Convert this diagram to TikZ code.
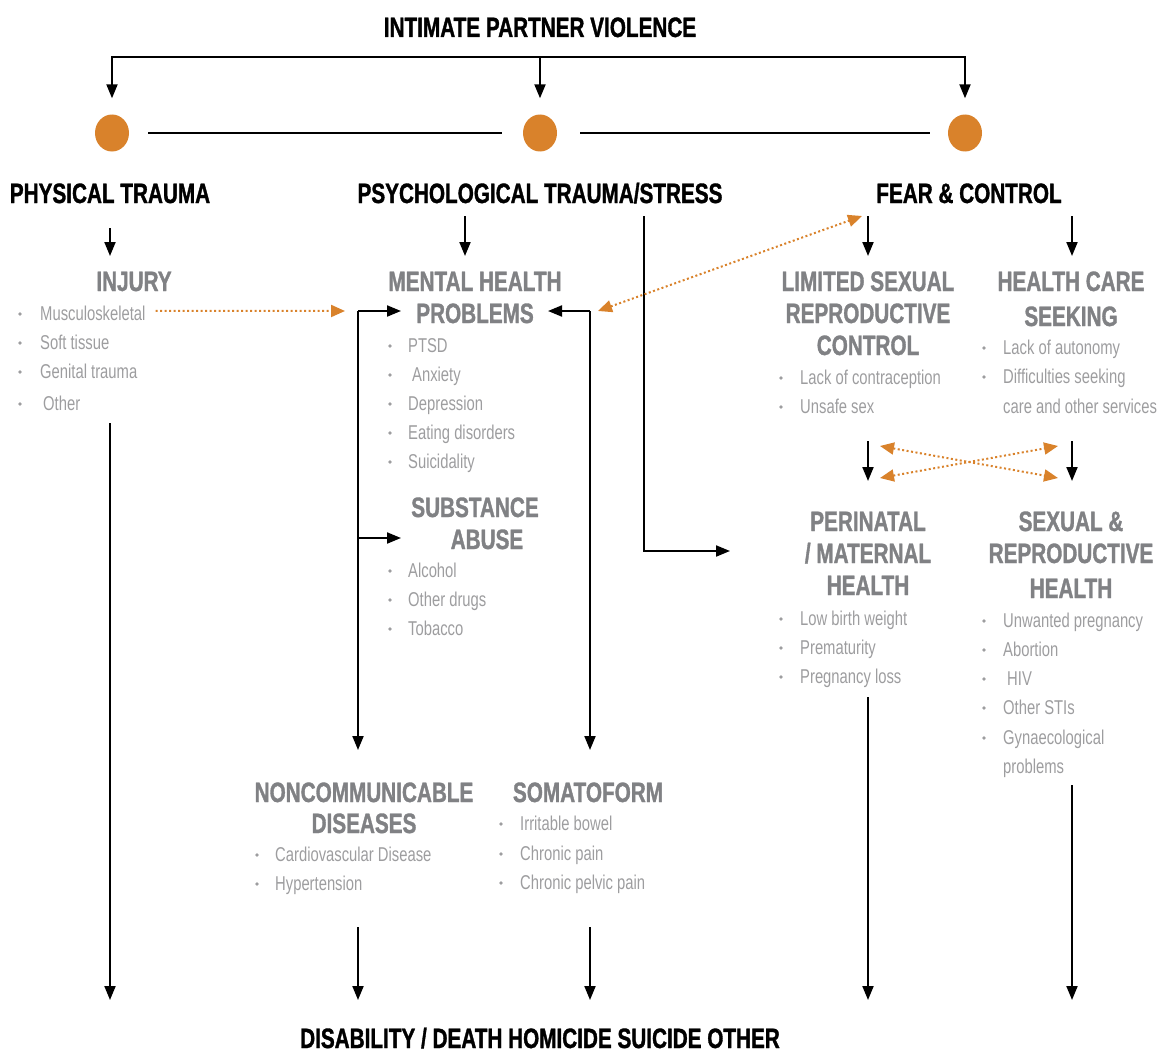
\documentclass[tikz,border=0pt]{standalone}
\usepackage{fontspec}
\setmainfont{Liberation Sans}[FakeStretch=0.74, BoldFeatures={FakeBold=1.2}]
\usetikzlibrary{arrows.meta,shapes.geometric}
\definecolor{ora}{HTML}{D9822B}
\definecolor{hgray}{HTML}{808184}
\definecolor{bgray}{HTML}{9D9D9F}
\newcommand\bitem[5]{%
  \fill[bgray] (#2,#4+1) circle (1.8);
  \node[btx] (#1) at (#3,#4+7) {#5};}
\begin{document}
\begin{tikzpicture}[x=1pt,y=-1pt,
  blk/.style={font=\bfseries\fontsize{28}{30}\selectfont, text=black, inner sep=0pt, anchor=base},
  ghd/.style={font=\bfseries\fontsize{28}{30}\selectfont, text=hgray, inner sep=0pt, anchor=base},
  btx/.style={font=\fontsize{20}{22}\selectfont, text=bgray, inner sep=0pt, anchor=base west},
  arr/.style={line width=2pt, -{Triangle[length=14pt,width=11pt]}},
  ln/.style={line width=2pt},
  odot/.style={ora, line width=2pt, dash pattern=on 2pt off 2.5pt},
  oboth/.style={odot, {Triangle[length=14pt,width=12pt]}-{Triangle[length=14pt,width=12pt]}},
  oone/.style={odot, -{Triangle[length=14pt,width=12pt]}},
  bigdot/.style={ellipse, fill=ora, minimum width=34pt, minimum height=37pt, inner sep=0pt},
]
\useasboundingbox (0,0) rectangle (1158,1054);

% top
\node[blk] (ipv) at (540,37) {INTIMATE PARTNER VIOLENCE};
\node[bigdot] (c1) at (112,133) {};
\node[bigdot] (c2) at (540,133) {};
\node[bigdot] (c3) at (965,133) {};
\coordinate (tm) at (540,57);
\draw[arr, shorten >=16pt] (tm) -| (c1.north);
\draw[arr, shorten >=16pt] (tm) -| (c3.north);
\draw[arr, shorten >=16pt] (tm) -- (c2.north);
\draw[ln, shorten <=19pt, shorten >=21pt] (c1.east) -- (c2.west);
\draw[ln, shorten <=23pt, shorten >=18pt] (c2.east) -- (c3.west);

\node[blk] (phys) at (110,203) {PHYSICAL TRAUMA};
\node[blk] (psy) at (540,203) {PSYCHOLOGICAL TRAUMA/STRESS};
\node[blk] (fear) at (969,203) {FEAR \& CONTROL};

% injury
\node[ghd] (inj) at (134,291) {INJURY};
\bitem{i1}{20}{40}{313}{Musculoskeletal}
\bitem{i2}{20}{40}{342}{Soft tissue}
\bitem{i3}{20}{40}{371}{Genital trauma}
\bitem{i4}{20}{43}{403}{Other}

% mental health
\node[ghd] (mh1) at (475,291) {MENTAL HEALTH};
\node[ghd] (mh2) at (475,323) {PROBLEMS};
\bitem{m1}{390}{408}{345}{PTSD}
\bitem{m2}{390}{412}{374}{Anxiety}
\bitem{m3}{390}{408}{403}{Depression}
\bitem{m4}{390}{408}{432}{Eating disorders}
\bitem{m5}{390}{408}{461}{Suicidality}
\node[ghd] (sa1) at (475,517) {SUBSTANCE};
\node[ghd] (sa2) at (487,549) {ABUSE};
\bitem{s1}{390}{408}{570}{Alcohol}
\bitem{s2}{390}{408}{599}{Other drugs}
\bitem{s3}{390}{408}{628}{Tobacco}

% limited sexual reproductive control
\node[ghd] (lc1) at (868,291) {LIMITED SEXUAL};
\node[ghd] (lc2) at (868,323) {REPRODUCTIVE};
\node[ghd] (lc3) at (868,355) {CONTROL};
\bitem{l1}{781}{800}{377}{Lack of contraception}
\bitem{l2}{781}{800}{406}{Unsafe sex}

% health care seeking
\node[ghd] (hc1) at (1071,291) {HEALTH CARE};
\node[ghd] (hc2) at (1071,326) {SEEKING};
\bitem{h1}{984}{1003}{347}{Lack of autonomy}
\bitem{h2}{984}{1003}{376}{Difficulties seeking}
\node[btx] (h3) at (1003,413) {care and other services};

% perinatal
\node[ghd] (pm1) at (868,531) {PERINATAL};
\node[ghd] (pm2) at (868,563) {/ MATERNAL};
\node[ghd] (pm3) at (868,595) {HEALTH};
\bitem{p1}{781}{800}{618}{Low birth weight}
\bitem{p2}{781}{800}{647}{Prematurity}
\bitem{p3}{781}{800}{676}{Pregnancy loss}

% sexual & reproductive health
\node[ghd] (sr1) at (1071,531) {SEXUAL \&};
\node[ghd] (sr2) at (1071,563) {REPRODUCTIVE};
\node[ghd] (sr3) at (1071,598) {HEALTH};
\bitem{r1}{984}{1003}{620}{Unwanted pregnancy}
\bitem{r2}{984}{1003}{649}{Abortion}
\bitem{r3}{984}{1007}{678}{HIV}
\bitem{r4}{984}{1003}{707}{Other STIs}
\bitem{r5}{984}{1003}{737}{Gynaecological}
\node[btx] (r6) at (1003,773) {problems};

% NCD and somatoform
\node[ghd] (nc1) at (364,802) {NONCOMMUNICABLE};
\node[ghd] (nc2) at (364,833) {DISEASES};
\bitem{n1}{257}{275}{854}{Cardiovascular Disease}
\bitem{n2}{257}{275}{883}{Hypertension}
\node[ghd] (so1) at (588,802) {SOMATOFORM};
\bitem{o1}{501}{520}{823}{Irritable bowel}
\bitem{o2}{501}{520}{853}{Chronic pain}
\bitem{o3}{501}{520}{882}{Chronic pelvic pain}

\node[blk] (out) at (540,1048) {DISABILITY / DEATH HOMICIDE SUICIDE OTHER};

% connectors
\draw[arr] (110,228) -- (110,256);
\draw[arr] (465,216) -- (465,256);
\draw[arr] (868,216) -- (868,256);
\draw[arr] (1072,216) -- (1072,256);
\draw[arr] (644,216) |- (730,551);

\draw[oone] (i1.east) ++(10,-2) -- (345,311);
\draw[arr] (358,311) -- (358,750);
\draw[arr] (358,311) -- (401,311);
\draw[arr] (358,538) -- (401,538);
\draw[arr] (590,311) -- (590,750);
\draw[arr] (590,311) -- (548,311);
\draw[oboth] (598,311) -- (862,216);

\draw[arr] (868,441) -- (868,481);
\draw[arr] (1072,441) -- (1072,481);
\draw[oboth] (880,446) -- (1058,478);
\draw[oboth] (880,478) -- (1058,446);

\draw[arr] (110,423) -- (110,1000);
\draw[arr] (358,927) -- (358,1000);
\draw[arr] (590,927) -- (590,1000);
\draw[arr] (868,697) -- (868,1000);
\draw[arr] (1072,785) -- (1072,1000);
\end{tikzpicture}
\end{document}
